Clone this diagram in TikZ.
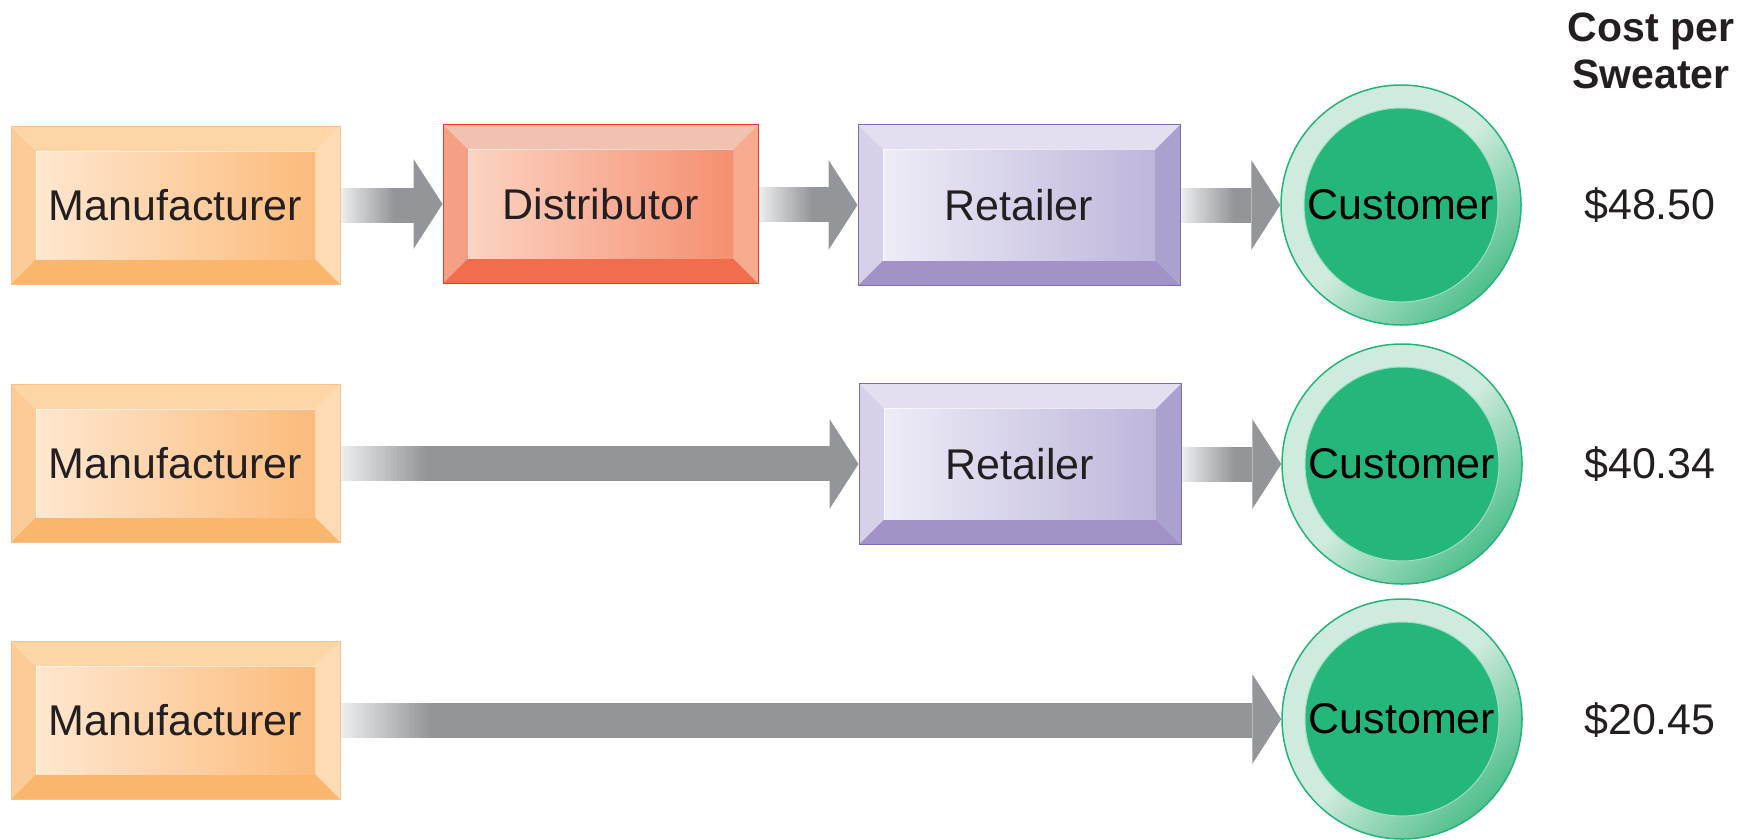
\documentclass[tikz,border=0pt]{standalone}
\usepackage{fontspec}
\setmainfont{Liberation Sans}
\usepackage{tikz}
\usetikzlibrary{calc, positioning}
\definecolor{manuLine}{HTML}{FCC186}
\definecolor{manuTop}{HTML}{FDD5A7}
\definecolor{manuLeft}{HTML}{FCCB97}
\definecolor{manuRight}{HTML}{FDDBB5}
\definecolor{manuBot}{HTML}{FBB66E}
\definecolor{manuFaceL}{HTML}{FEE7D0}
\definecolor{manuFaceR}{HTML}{FBBB7B}
\definecolor{distLine}{HTML}{EE3A2E}
\definecolor{distTop}{HTML}{F1C2AF}
\definecolor{distLeft}{HTML}{F5A084}
\definecolor{distRight}{HTML}{F8AA8F}
\definecolor{distBot}{HTML}{F26D4E}
\definecolor{distFaceL}{HTML}{FCD3C2}
\definecolor{distFaceR}{HTML}{F58F70}
\definecolor{retLine}{HTML}{7D6DB0}
\definecolor{retTop}{HTML}{E3DFF0}
\definecolor{retLeft}{HTML}{D6D1E9}
\definecolor{retRight}{HTML}{ABA1CE}
\definecolor{retBot}{HTML}{A193C8}
\definecolor{retFaceL}{HTML}{EEECF7}
\definecolor{retFaceR}{HTML}{BEB6DB}
\definecolor{custLine}{HTML}{24B47A}
\definecolor{custRingL}{HTML}{CFEBDD}
\definecolor{custRingD}{HTML}{4FBF8B}
\definecolor{custFill}{HTML}{25B67B}
\definecolor{arrowGray}{HTML}{939598}
\definecolor{arrowLight}{HTML}{ECEDEE}
\definecolor{inkText}{HTML}{231F20}
\newcommand{\chainfont}{\fontsize{43}{50}\selectfont}
\newcommand{\costheadfont}{\fontsize{41}{47}\selectfont\bfseries}
\tikzset{
	bevelbox/.style={draw=#1Line, line width=1pt, inner sep=0pt, font=\chainfont, text=inkText,
		path picture={
			\coordinate (pNW) at (path picture bounding box.north west);
			\coordinate (pNE) at (path picture bounding box.north east);
			\coordinate (pSW) at (path picture bounding box.south west);
			\coordinate (pSE) at (path picture bounding box.south east);
			\coordinate (qNW) at ([xshift=25pt,yshift=-25pt]pNW);
			\coordinate (qNE) at ([xshift=-25pt,yshift=-25pt]pNE);
			\coordinate (qSW) at ([xshift=25pt,yshift=25pt]pSW);
			\coordinate (qSE) at ([xshift=-25pt,yshift=25pt]pSE);
			\fill[#1Left] (pNW) -- (qNW) -- (qSW) -- (pSW) -- cycle;
			\fill[#1Right] (pNE) -- (qNE) -- (qSE) -- (pSE) -- cycle;
			\fill[#1Top] (pNW) -- (pNE) -- (qNE) -- (qNW) -- cycle;
			\fill[#1Bot] (pSW) -- (pSE) -- (qSE) -- (qSW) -- cycle;
			\shade[left color=#1FaceL, right color=#1FaceR] (qNW) rectangle (qSE);
			\draw[white, opacity=.6, line width=1pt] (qSW) -- (qNW) -- (qNE);
		}},
	manubox/.style={bevelbox=manu, minimum width=329pt, minimum height=158pt},
	distbox/.style={bevelbox=dist, minimum width=315pt, minimum height=159pt},
	retbox/.style={bevelbox=ret, minimum width=322pt, minimum height=161pt},
	custnode/.style={circle, draw=custLine, line width=1.5pt, minimum size=240pt, inner sep=0pt,
		top color=custRingL, bottom color=custRingD, middle color=custRingL, shading angle=45,
		font=\chainfont, text=black,
		path picture={\fill[custFill, draw=white!55!custFill, line width=1pt] (path picture bounding box.center) circle (97pt);}},
	costlabel/.style={font=\chainfont, text=inkText, inner sep=0pt}
}
\newcommand{\fatarrow}[3][55pt]{%
	\coordinate (aS) at (#2.east);
	\coordinate (aE) at (#3.west);
	\fill[arrowGray] ([xshift=#1-1pt,yshift=-17.5pt]aS) rectangle ([xshift=-29pt,yshift=17.5pt]aS -| aE);
	\foreach \k [evaluate=\k as \pc using \k*100/24] in {0,...,24}
		\fill[arrowGray!\pc!arrowLight] ([xshift=\k*#1/25,yshift=-17.5pt]aS) rectangle ([xshift=(\k+1)*#1/25+0.4pt,yshift=17.5pt]aS);
	\fill[arrowGray] ([xshift=-29pt,yshift=45pt]aE) -- (aE) -- ([xshift=-29pt,yshift=-45pt]aE) -- cycle;
}

\begin{document}
\begin{tikzpicture}[x=1pt, y=-1pt]
		\useasboundingbox (0,0) rectangle (1761,839);
		\node[font=\costheadfont, text=inkText, align=center, inner sep=0pt] (head) at (1651,51) {Cost per\\Sweater};
		% direct through distributor and retailer
		\node[manubox] (m1) at (175.5,205) {Manufacturer};
		\node[distbox] (d1) at (600.5,204) {Distributor};
		\node[retbox] (r1) at (1019,205) {Retailer};
		\node[custnode] (u1) at (1401,205) {Customer};
		\node[costlabel] (c1) at (1650,205) {\$48.50};
		\fatarrow{m1}{d1}
		\fatarrow{d1}{r1}
		\fatarrow{r1}{u1}
		% through retailer only
		\node[manubox] (m2) at (175.5,463) {Manufacturer};
		\node[retbox] (r2) at (1020,464) {Retailer};
		\node[custnode] (u2) at (1402,464) {Customer};
		\node[costlabel] (c2) at (1650,464) {\$40.34};
		\fatarrow[88pt]{m2}{r2}
		\fatarrow{r2}{u2}
		% straight to the customer
		\node[manubox] (m3) at (175.5,720) {Manufacturer};
		\node[custnode] (u3) at (1402,719) {Customer};
		\node[costlabel] (c3) at (1650,720) {\$20.45};
		\fatarrow[92pt]{m3}{u3}
	\end{tikzpicture}
\end{document}
